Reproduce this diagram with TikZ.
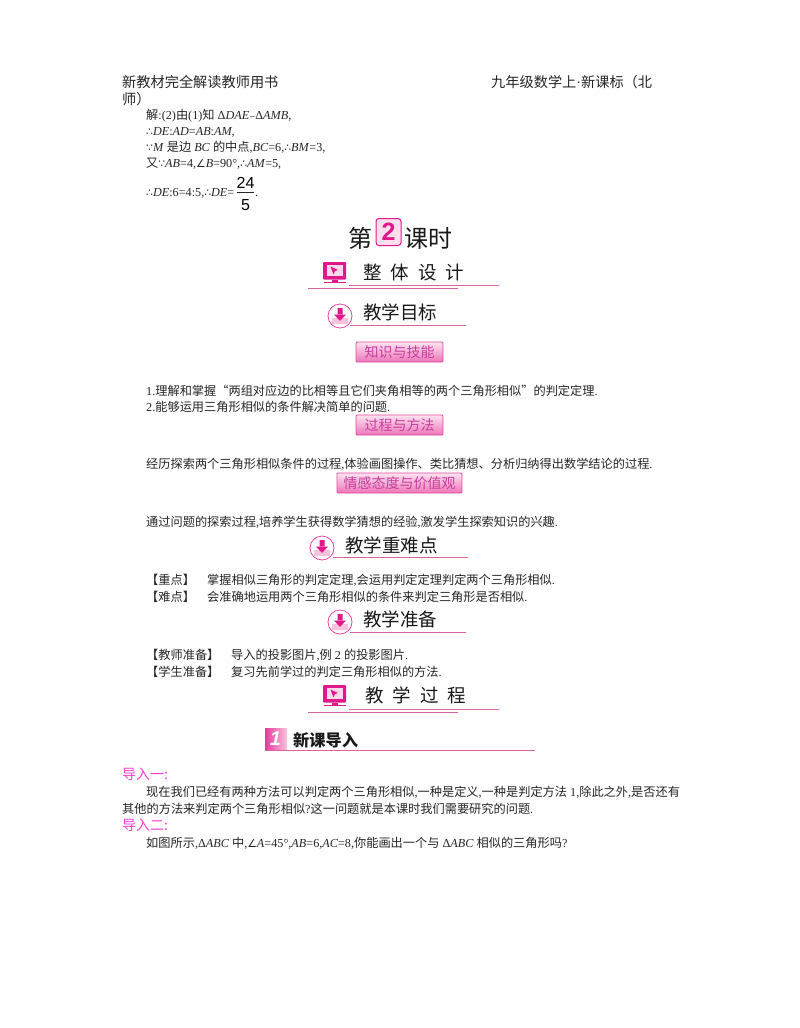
\documentclass[tikz,border=0pt]{standalone}
\usepackage{fontspec}
\setmainfont{Liberation Serif}
\newfontfamily\cjk{Noto Sans CJK SC}
\newfontfamily\symf{DejaVu Sans}
\newfontfamily\numf{Liberation Sans}
\newcommand{\zh}[1]{{\cjk #1}}
\newcommand{\sy}[1]{{\symf\scalebox{0.88}{#1}}}
\newcommand{\lt}[1]{\textit{#1}}
\definecolor{rulepink}{HTML}{D862A6}
\definecolor{iconpink}{HTML}{E0188A}
\definecolor{palepink}{HTML}{F9C3DE}
\definecolor{leadpink}{HTML}{FF3DD8}
\tikzset{
    bodyline/.style={anchor=base west, inner sep=0pt, font=\fontsize{12.2}{14}\selectfont, text=black!85},
    headline/.style={anchor=base west, inner sep=0pt, font=\fontsize{14.2}{16}\cjk, text=black!85},
    leadline/.style={anchor=base west, inner sep=0pt, font=\fontsize{14}{16}\cjk, text=leadpink},
    topichead/.style={anchor=base west, inner sep=0pt, font=\fontsize{18.5}{20}\cjk, text=black!90},
    badge/.style={draw=iconpink!80, line width=0.8pt, rounded corners=1pt, top color=palepink!45, bottom color=iconpink!60,
        minimum height=20pt, inner sep=0pt, font=\fontsize{14}{16}\cjk, text=iconpink!60!violet!80},
    headrule/.style={draw=rulepink, line width=1pt},
    screenicon/.pic={
        \fill[iconpink, rounded corners=1pt] (-11.5,-10.5) rectangle (11.5,7);
        \fill[palepink!60] (-8,-8) rectangle (8,3.5);
        \fill[iconpink] (-4,-6) -- (3.5,-2.5) -- (0.5,-1.5) -- (-1,2) -- cycle;
        \fill[iconpink] (-3,7) rectangle (3,9);
        \fill[iconpink] (-11,9) rectangle (11,10.5);
    },
    downicon/.pic={
        \fill[white] (0,0) circle (12);
        \fill[palepink] (-8,2) -- (-3,2) -- (0,5) -- (3,2) -- (8,2) -- (8,8) -- (-8,8) -- cycle;
        \draw[iconpink!80, line width=0.8pt] (0,0) circle (12);
        \fill[iconpink] (-2.5,-8) rectangle (2.5,-1) (-6,-1.5) -- (6,-1.5) -- (0,5) -- cycle;
    },
}
\begin{document}
\begin{tikzpicture}[x=1pt, y=-1pt]
    \useasboundingbox[fill=white] (0,0) rectangle (800,1028);

    % running head
    \node[headline] (headleft) at (122,87) {新教材完全解读教师用书};
    \node[headline] (headright) at (491,87) {九年级数学上{\rmfamily ·}新课标（北};
    \node[headline] (headwrap) at (122,104) {师）};

    % solution lines
    \node[bodyline] (sola) at (146,119) {\zh{解}:(2)\zh{由}(1)\zh{知} Δ\lt{DAE}{\symf\scalebox{0.6}{∽}}Δ\lt{AMB},};
    \node[bodyline] (solb) at (146,135) {\sy{∴}\lt{DE}:\lt{AD}=\lt{AB}:\lt{AM},};
    \node[bodyline] (solc) at (146,151) {\sy{∵}\lt{M} \zh{是边} \lt{BC} \zh{的中点},\lt{BC}=6,\sy{∴}\lt{BM}=3,};
    \node[bodyline] (sold) at (146,167) {\zh{又}\sy{∵}\lt{AB}=4,\sy{∠}\lt{B}=90°,\sy{∴}\lt{AM}=5,};
    \node[bodyline] (sole) at (146,196) {\sy{∴}\lt{DE}:6=4:5,\sy{∴}\lt{DE}=};
    \node[inner sep=0pt, anchor=base, font=\fontsize{16}{18}\numf] (fracup) at (245.5,188) {24};
    \node[inner sep=0pt, anchor=base, font=\fontsize{16}{18}\numf] (fracdown) at (245.5,210) {5};
    \draw[black!85, line width=0.7pt] (237,192) -- (254,192);
    \node[bodyline] (solend) at (255,196) {.};

    % lesson title
    \node[inner sep=0pt, anchor=base west, font=\fontsize{24}{26}\cjk, text=black!90] (lessonl) at (348,247) {第};
    \node[draw=iconpink, fill=palepink!55, rounded corners=3pt, line width=1pt, minimum width=25pt, minimum height=27pt, inner sep=0pt,
        font=\fontsize{25}{26}\numf\bfseries, text=iconpink] (lessonnum) at (388.5,232) {2};
    \node[inner sep=0pt, anchor=base west, font=\fontsize{24}{26}\cjk, text=black!90] (lessonr) at (404,247) {课时};

    % overall design
    \pic at (334.5,272.5) {screenicon};
    \node[topichead] (design) at (363,279) {整\hspace{9pt}体\hspace{9pt}设\hspace{9pt}计};
    \draw[headrule] (349,285.5) -- (499,285.5);
    \draw[headrule] (308,288.5) -- (458,288.5);

    % goals
    \pic at (340,316) {downicon};
    \node[topichead] (goals) at (363,319.5) {教学目标};
    \draw[headrule] (350,325) -- (466,325);
    \node[badge, minimum width=87pt] (skills) at (399.5,352) {知识与技能};
    \node[bodyline] (goala) at (146,395) {1.\zh{理解和掌握“两组对应边的比相等且它们夹角相等的两个三角形相似”的判定定理}.};
    \node[bodyline] (goalb) at (146,411) {2.\zh{能够运用三角形相似的条件解决简单的问题}.};
    \node[badge, minimum width=87pt] (method) at (399.5,425) {过程与方法};
    \node[bodyline] (goalc) at (146,468) {\zh{经历探索两个三角形相似条件的过程},\zh{体验画图操作、类比猜想、分析归纳得出数学结论的过程}.};
    \node[badge, minimum width=125pt] (attitude) at (399.5,483) {情感态度与价值观};
    \node[bodyline] (goald) at (146,526) {\zh{通过问题的探索过程},\zh{培养学生获得数学猜想的经验},\zh{激发学生探索知识的兴趣}.};

    % key points
    \pic at (322,548) {downicon};
    \node[topichead] (keys) at (345,552) {教学重难点};
    \draw[headrule] (333,557) -- (468,557);
    \node[bodyline] (keya) at (146,584) {\zh{【重点】}};
    \node[bodyline] (keyb) at (207,584) {\zh{掌握相似三角形的判定定理},\zh{会运用判定定理判定两个三角形相似}.};
    \node[bodyline] (harda) at (146,601) {\zh{【难点】}};
    \node[bodyline] (hardb) at (207,601) {\zh{会准确地运用两个三角形相似的条件来判定三角形是否相似}.};

    % preparation
    \pic at (340,622) {downicon};
    \node[topichead] (prep) at (363,626) {教学准备};
    \draw[headrule] (350,632) -- (466,632);
    \node[bodyline] (prepa) at (146,659) {\zh{【教师准备】}};
    \node[bodyline] (prepb) at (231,659) {\zh{导入的投影图片},\zh{例} 2 \zh{的投影图片}.};
    \node[bodyline] (prepc) at (146,676) {\zh{【学生准备】}};
    \node[bodyline] (prepd) at (231,676) {\zh{复习先前学过的判定三角形相似的方法}.};

    % teaching process
    \pic at (334.5,695.5) {screenicon};
    \node[topichead] (process) at (365,702) {教\hspace{9pt}学\hspace{9pt}过\hspace{9pt}程};
    \draw[headrule] (349,709) -- (499,709);
    \draw[headrule] (308,712.5) -- (458,712.5);

    % section one
    \shade[left color=iconpink!85, right color=palepink] (265,728) rectangle (287,750);
    \node[inner sep=0pt, font=\fontsize{20}{20}\numf\bfseries\itshape, text=white] (secnum) at (275.5,739) {1};
    \node[inner sep=0pt, anchor=base west, font=\fontsize{16.2}{18}\cjk\bfseries, text=black!90] (sectitle) at (293,746) {新课导入};
    \draw[headrule] (265,750) -- (535,750);

    % lead-in text
    \node[leadline] (leada) at (122,779) {导入一:};
    \node[bodyline] (leadb) at (146,796) {\zh{现在我们已经有两种方法可以判定两个三角形相似},\zh{一种是定义},\zh{一种是判定方法} 1,\zh{除此之外},\zh{是否还有}};
    \node[bodyline] (leadc) at (122,813) {\zh{其他的方法来判定两个三角形相似}?\zh{这一问题就是本课时我们需要研究的问题}.};
    \node[leadline] (leadd) at (122,830) {导入二:};
    \node[bodyline] (leade) at (146,847) {\zh{如图所示},Δ\lt{ABC} \zh{中},\sy{∠}\lt{A}=45°,\lt{AB}=6,\lt{AC}=8,\zh{你能画出一个与} Δ\lt{ABC} \zh{相似的三角形吗}?};
\end{tikzpicture}
\end{document}
